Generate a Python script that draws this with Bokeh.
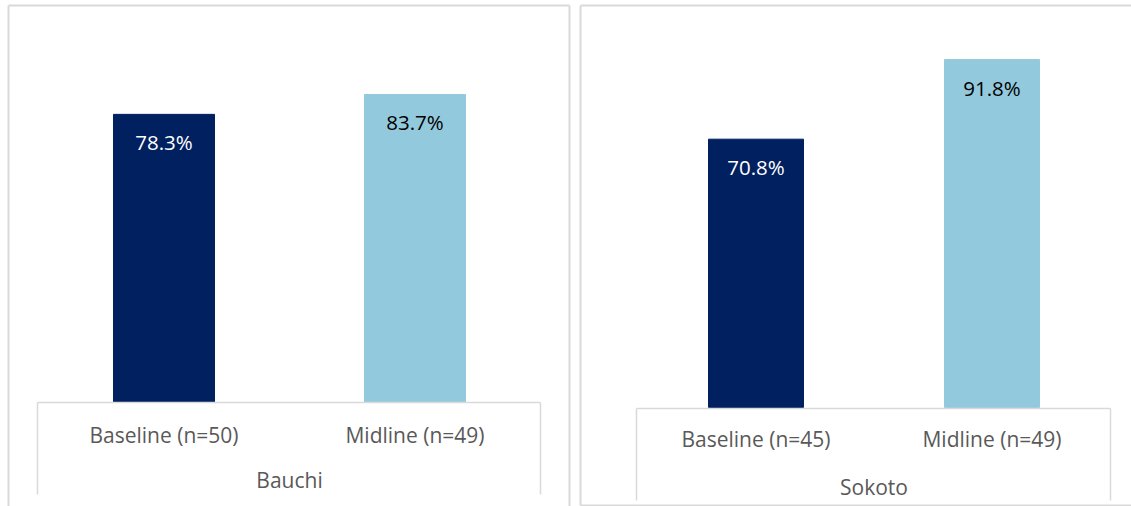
from bokeh.plotting import figure
from bokeh.models import ColumnDataSource, Range1d
from bokeh.layouts import row
from bokeh.core.properties import value
from bokeh.embed import file_html
from bokeh.resources import INLINE

# ---- data ----
states = ["Bauchi", "Sokoto"]
bauchi_labels = ["Baseline (n=50)", "Midline (n=49)"]
bauchi_values = [78.3, 83.7]
sokoto_labels = ["Baseline (n=45)", "Midline (n=49)"]
sokoto_values = [70.8, 91.8]
bar_colors = ["#002060", "#93C9DD"]
value_text_colors = ["#FFFFFF", "#000000"]

FONT = "Open Sans"
GRID = "#D9D9D9"
LABEL = "#595959"
H = 506


def panel(state, labels, values, W, cx, ux, zero, ppu, outer, box, cat_py, grp_py):
    px2x = lambda px: (px - cx) / ux
    py2y = lambda py: (zero - py) / ppu
    p = figure(width=W, height=H, output_backend="svg", toolbar_location=None,
               x_range=Range1d(px2x(0), px2x(W)), y_range=Range1d(py2y(H), py2y(0)),
               min_border=0, x_axis_location=None, y_axis_location=None)
    p.grid.visible = False
    p.outline_line_color = None
    p.background_fill_color = "white"
    p.border_fill_color = "white"

    idx = list(range(len(values)))
    src = ColumnDataSource(dict(
        x=idx, top=values, color=bar_colors[:len(values)],
        txt=[f"{v:.1f}%" for v in values], tcol=value_text_colors[:len(values)],
        cat=labels))
    p.vbar(x="x", top="top", bottom=0, width=0.4025, color="color", source=src)
    p.text(x="x", y="top", text="txt", y_offset=28, text_align="center",
           text_baseline="middle", text_color="tcol", text_font=value(FONT),
           text_font_size="20.5px", source=src)

    # panel border
    (l, t, r, b) = outer
    xs, ys = [], []
    if l is not None:
        xs.append([px2x(l), px2x(l)]); ys.append([py2y(t), py2y(b)])
    if r is not None:
        xs.append([px2x(r), px2x(r)]); ys.append([py2y(t), py2y(b)])
    xs.append([px2x(l if l is not None else 0), px2x(r if r is not None else W)])
    ys.append([py2y(t), py2y(t)])
    if b < H:
        xs.append([px2x(l if l is not None else 0), px2x(r if r is not None else W)])
        ys.append([py2y(b), py2y(b)])
    p.multi_line(xs, ys, line_color=GRID, line_width=2)

    # category axis box
    (bl, bt, br, bb) = box
    p.multi_line([[px2x(bl), px2x(bl)], [px2x(bl), px2x(br)], [px2x(br), px2x(br)]],
                 [[py2y(bb), py2y(bt)], [py2y(bt), py2y(bt)], [py2y(bt), py2y(bb)]],
                 line_color=GRID, line_width=1.5)

    p.text(x="x", y=py2y(cat_py), text="cat", text_align="center",
           text_baseline="middle", text_color=LABEL, text_font=value(FONT),
           text_font_size="21px", source=src)
    p.text(x=[(len(values) - 1) / 2], y=[py2y(grp_py)], text=[state],
           text_align="center", text_baseline="middle", text_color=LABEL,
           text_font=value(FONT), text_font_size="21px")
    return p


p1 = panel(states[0], bauchi_labels, bauchi_values, W=575, cx=163.5, ux=251,
           zero=402, ppu=3.68, outer=(8, 5, 569, 520), box=(37, 402, 540, 494),
           cat_py=434, grp_py=479)
p2 = panel(states[1], sokoto_labels, sokoto_values, W=556, cx=180.5, ux=236,
           zero=407, ppu=3.79, outer=(5, 5, None, 505), box=(61, 408, 535, 500),
           cat_py=438, grp_py=486)

layout = row(p1, p2)
open("out.html", "w").write(file_html(layout, INLINE))
